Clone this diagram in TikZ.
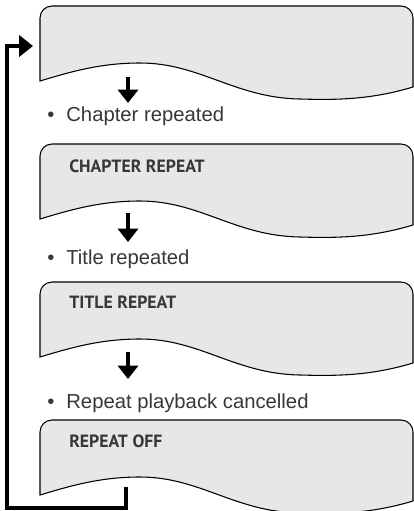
\documentclass[tikz,border=0pt]{standalone}
\usepackage{fontspec}
\setmainfont{Liberation Sans}
\newfontfamily\lcdfont{PT Sans}
\usepackage{xcolor}
\usetikzlibrary{calc,arrows.meta}

\definecolor{screengray}{RGB}{230,231,232}
\definecolor{inkgray}{RGB}{55,55,55}

\tikzset{
  screen/.style={draw=black, line width=0.8pt, fill=screengray},
  steparrow/.style={line width=3pt, -{Triangle[width=15pt,length=10pt]}},
  backarrow/.style={line width=3pt, -{Triangle[width=16pt,length=10.5pt]}},
  lcdtext/.style={font=\lcdfont\bfseries\fontsize{13.3}{15}\selectfont, text=inkgray, anchor=base west, inner sep=0pt},
  steptext/.style={font=\fontsize{15.2}{17}\selectfont, text=inkgray, anchor=base west, inner sep=0pt}
}

% 一个显示屏框：#1 = 顶边 y 坐标
\newcommand{\screenbox}[1]{%
  \draw[screen] (40,#1+75) [rounded corners=9pt] -- (40,#1) -- (413,#1) [sharp corners] -- (413,#1+81)
    .. controls (370,#1+94) and (335,#1+94) .. (300,#1+93)
    .. controls (235,#1+92) and (200,#1+57) .. (140,#1+57)
    .. controls (100,#1+57) and (70,#1+66) .. (40,#1+75) -- cycle;%
}

\begin{document}
\begin{tikzpicture}[x=0.75pt, y=-0.75pt, line cap=butt, line join=miter]

  %====================
  % 0) 画布范围
  %====================
  \useasboundingbox (0,0) rectangle (414,511);
  \clip (0,0) rectangle (414,511);

  %====================
  % 1) 四个显示屏
  %====================
  \screenbox{6}
  \screenbox{144}
  \screenbox{282}
  \screenbox{420}

  \node[lcdtext] (chap) at (69,172) {CHAPTER REPEAT};
  \node[lcdtext] (titl) at (69,308) {TITLE REPEAT};
  \node[lcdtext] (roff) at (69,447) {REPEAT OFF};

  %====================
  % 2) 说明文字
  %====================
  \node[steptext] (s1) at (47,121.5) {\textbullet\hspace{9pt}Chapter repeated};
  \node[steptext] (s2) at (47,264.5) {\textbullet\hspace{9pt}Title repeated};
  \node[steptext] (s3) at (47,408.5) {\textbullet\hspace{9pt}Repeat playback cancelled};

  %====================
  % 3) 向下箭头
  %====================
  \coordinate (a1s) at (128,77);   \coordinate (a1e) at (128,103);
  \coordinate (a2s) at (128,213);  \coordinate (a2e) at (128,242);
  \coordinate (a3s) at (128,352);  \coordinate (a3e) at (128,379);

  \draw[steparrow] (a1s) -- (a1e);
  \draw[steparrow] (a2s) -- (a2e);
  \draw[steparrow] (a3s) -- (a3e);

  %====================
  % 4) 返回第一屏的回路
  %====================
  \coordinate (loopS) at (125.5,487);
  \coordinate (loopC) at (7,508);
  \coordinate (loopE) at (33,46);

  \draw[backarrow] (loopS) |- (loopC) |- (loopE);

\end{tikzpicture}
\end{document}
